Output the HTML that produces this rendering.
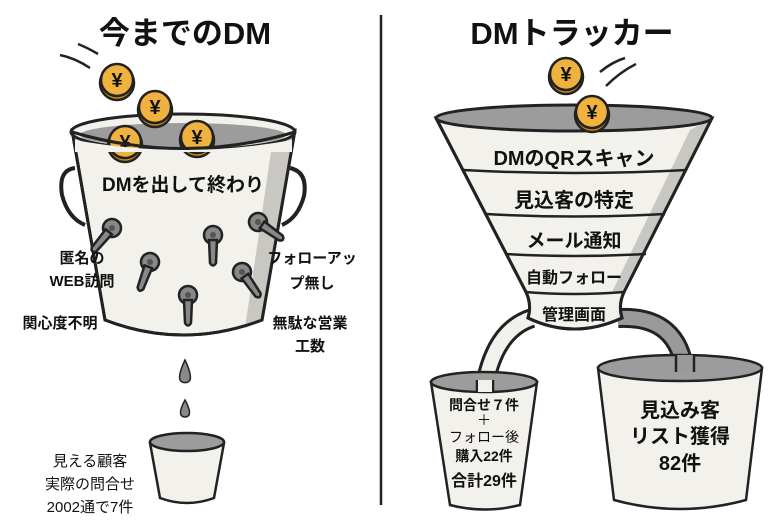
<!DOCTYPE html>
<html><head><meta charset="utf-8"><style>
html,body{margin:0;padding:0;background:#fff}
svg{display:block}
text{font-family:"Liberation Sans","Noto Sans CJK JP",sans-serif;fill:#111}
.b{font-weight:bold}
</style></head><body>
<svg width="780" height="520" viewBox="0 0 780 520" xmlns="http://www.w3.org/2000/svg">
<defs>
<g id="coin"><circle r="17" fill="#c98a1c" stroke="#222" stroke-width="2.5" cy="3"/><circle r="16" fill="#f0b23e" stroke="#222" stroke-width="2.5"/><text y="7" text-anchor="middle" font-size="20" font-weight="bold">¥</text></g>
<g id="key"><circle r="9" fill="#888" stroke="#222" stroke-width="2.5"/><path d="M-4,5 L-3,28 Q0,33 3,28 L4,5Z" fill="#888" stroke="#222" stroke-width="2.5"/><circle r="3" fill="#555"/></g>
</defs>

<line x1="381" y1="15" x2="381" y2="505" stroke="#222" stroke-width="2.5"/>

<!-- LEFT -->
<text x="185" y="44" text-anchor="middle" font-size="31" class="b">今までのDM</text>
<path d="M60,55 Q75,58 90,68 M78,44 Q88,48 98,54" stroke="#222" stroke-width="2.5" fill="none"/>
<path d="M75,168 Q58,170 62,195 Q68,218 85,225" stroke="#222" stroke-width="4" fill="none"/>
<path d="M290,168 Q308,172 304,196 Q298,218 282,225" stroke="#222" stroke-width="4" fill="none"/>
<path d="M72,130 L105,320 Q183,350 262,320 L295,130 Z" fill="#f3f1ec" stroke="#222" stroke-width="3"/>
<path d="M272,145 L295,130 L262,320 Q255,325 245,328 Z" fill="#c9c7c2"/>
<path d="M72,130 L105,320 Q183,350 262,320 L295,130" fill="none" stroke="#222" stroke-width="3"/>
<ellipse cx="183" cy="132" rx="112" ry="18" fill="#f3f1ec" stroke="#222" stroke-width="3"/>
<ellipse cx="183" cy="135" rx="103" ry="12" fill="#9c9c9c"/>
<use href="#coin" x="125" y="142"/>
<use href="#coin" x="197" y="137"/>
<path d="M75,140 Q183,160 292,140 L292,152 L75,152Z" fill="#f3f1ec"/>
<path d="M72,132 Q183,165 295,132" stroke="#222" stroke-width="3" fill="none"/>
<use href="#coin" x="117" y="80"/>
<use href="#coin" x="155" y="107"/>
<text x="183" y="191" text-anchor="middle" font-size="19" class="b">DMを出して終わり</text>
<use href="#key" x="112" y="228" transform="rotate(40 112 228)"/>
<use href="#key" x="150" y="262" transform="rotate(20 150 262)"/>
<use href="#key" x="213" y="235"/>
<use href="#key" x="188" y="295"/>
<use href="#key" x="242" y="272" transform="rotate(-35 242 272)"/>
<use href="#key" x="258" y="222" transform="rotate(-55 258 222)"/>
<text x="82" y="263" text-anchor="middle" font-size="15" class="b">匿名の</text>
<text x="82" y="286" text-anchor="middle" font-size="15" class="b">WEB訪問</text>
<text x="312" y="263" text-anchor="middle" font-size="15" class="b">フォローアッ</text>
<text x="312" y="288" text-anchor="middle" font-size="15" class="b">プ無し</text>
<text x="60" y="328" text-anchor="middle" font-size="15" class="b">関心度不明</text>
<text x="310" y="328" text-anchor="middle" font-size="15" class="b">無駄な営業</text>
<text x="310" y="351" text-anchor="middle" font-size="15" class="b">工数</text>
<path d="M185,360 Q178,375 180,380 A6,6 0 0 0 190,380 Q192,375 185,360Z" fill="#8a8a8a" stroke="#222" stroke-width="1.5"/>
<path d="M185,400 Q179,411 181,415 A5,5 0 0 0 189,415 Q191,411 185,400Z" fill="#8a8a8a" stroke="#222" stroke-width="1.5"/>
<path d="M150,443 L160,498 Q187,508 214,498 L224,443Z" fill="#f3f1ec" stroke="#222" stroke-width="2.5"/>
<ellipse cx="187" cy="442" rx="37" ry="9" fill="#9c9c9c" stroke="#222" stroke-width="2.5"/>
<text x="90" y="466" text-anchor="middle" font-size="15">見える顧客</text>
<text x="90" y="489" text-anchor="middle" font-size="15">実際の問合せ</text>
<text x="90" y="512" text-anchor="middle" font-size="15">2002通で7件</text>

<!-- RIGHT -->
<text x="572" y="44" text-anchor="middle" font-size="31" class="b">DMトラッカー</text>
<path d="M600,72 Q612,62 625,58 M606,86 Q620,72 636,64" stroke="#222" stroke-width="2.5" fill="none"/>
<path d="M532,318 Q495,330 485,385" stroke="#222" stroke-width="20" fill="none"/>
<path d="M532,318 Q495,330 485,385" stroke="#f3f1ec" stroke-width="14" fill="none"/>
<path d="M618,318 Q680,315 685,375" stroke="#222" stroke-width="20" fill="none"/>
<path d="M618,318 Q680,315 685,375" stroke="#9a9a9a" stroke-width="14" fill="none"/>
<path d="M436,118 L526,292 Q532,305 528,318 Q574,340 622,318 Q618,305 624,292 L712,118 Z" fill="#f3f1ec" stroke="#222" stroke-width="3"/>
<path d="M690,130 L712,118 L624,292 L612,292Z" fill="#c9c7c2"/>
<path d="M436,118 L526,292 Q532,305 528,318 Q574,340 622,318 Q618,305 624,292 L712,118" fill="none" stroke="#222" stroke-width="3"/>
<ellipse cx="574" cy="118" rx="138" ry="13" fill="#9c9c9c" stroke="#222" stroke-width="3"/>
<path d="M463,170 Q574,176 687,170 M486,214 Q574,219 665,214 M506,254 Q574,258 646,254 M525,292 Q574,296 624,292" stroke="#222" stroke-width="2.5" fill="none"/>
<use href="#coin" x="566" y="74"/>
<use href="#coin" x="592" y="112"/>
<text x="574" y="165" text-anchor="middle" font-size="20" class="b">DMのQRスキャン</text>
<text x="574" y="207" text-anchor="middle" font-size="20" class="b">見込客の特定</text>
<text x="574" y="247" text-anchor="middle" font-size="19" class="b">メール通知</text>
<text x="574" y="283" text-anchor="middle" font-size="16" class="b">自動フォロー</text>
<text x="574" y="320" text-anchor="middle" font-size="16" class="b">管理画面</text>
<path d="M431,382 L450,505 Q484,514 520,505 L537,382Z" fill="#f3f1ec" stroke="#222" stroke-width="2.5"/>
<ellipse cx="484" cy="382" rx="53" ry="10" fill="#9c9c9c" stroke="#222" stroke-width="2.5"/>
<path d="M477,380 L477,392 M493,380 L493,392" stroke="#222" stroke-width="2.5"/>
<rect x="478" y="380" width="14" height="12" fill="#f3f1ec"/>
<text x="484" y="410" text-anchor="middle" font-size="14" class="b">問合せ７件</text>
<text x="484" y="425" text-anchor="middle" font-size="14">＋</text>
<text x="484" y="442" text-anchor="middle" font-size="14">フォロー後</text>
<text x="484" y="461" text-anchor="middle" font-size="14" class="b">購入22件</text>
<text x="484" y="486" text-anchor="middle" font-size="16" class="b">合計29件</text>
<path d="M598,368 L614,500 Q680,518 746,500 L762,368Z" fill="#f3f1ec" stroke="#222" stroke-width="2.5"/>
<ellipse cx="680" cy="368" rx="82" ry="13" fill="#9c9c9c" stroke="#222" stroke-width="2.5"/>
<rect x="677" y="355" width="16" height="18" fill="#9a9a9a"/>
<path d="M676,355 L676,372 M694,355 L694,372" stroke="#222" stroke-width="2.5"/>
<text x="680" y="417" text-anchor="middle" font-size="20" class="b">見込み客</text>
<text x="680" y="443" text-anchor="middle" font-size="20" class="b">リスト獲得</text>
<text x="680" y="470" text-anchor="middle" font-size="20" class="b">82件</text>
</svg>
</body></html>
